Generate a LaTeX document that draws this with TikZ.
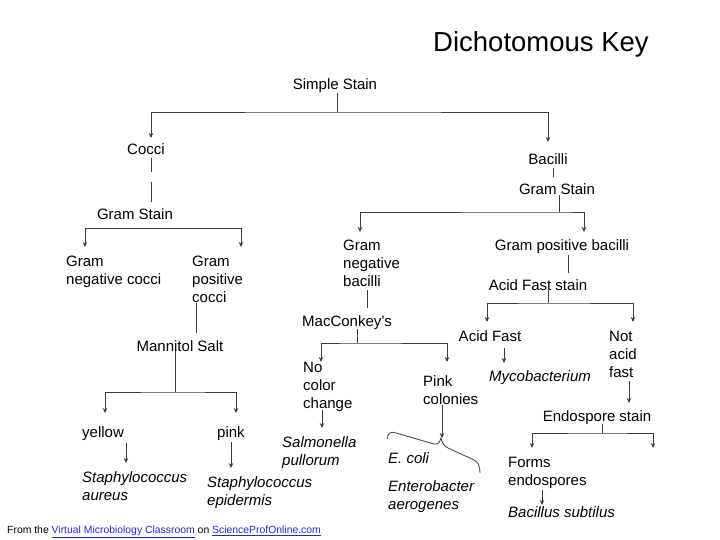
\documentclass[tikz,border=0pt]{standalone}
\usepackage{fontspec}
\setmainfont{Liberation Sans}
\usetikzlibrary{arrows.meta}
\definecolor{linkblue}{RGB}{40,40,200}
\definecolor{lncol}{RGB}{60,60,60}
\tikzset{
  txt/.style={inner sep=0pt, align=left, font=\fontsize{15}{18}\selectfont},
  itx/.style={txt, font=\fontsize{15}{18}\selectfont\itshape},
  ln/.style={draw=lncol, line width=0.8pt},
  arr/.style={ln, -{Stealth[length=5pt,width=4.5pt]}},
  dbl/.style={ln, {Stealth[length=5pt,width=4.5pt]}-{Stealth[length=5pt,width=4.5pt]}},
}
\begin{document}
\begin{tikzpicture}[x=1pt,y=-1pt]
\useasboundingbox (0,0) rectangle (720,540);
% title
\node[inner sep=0pt, font=\fontsize{27.5}{30}\selectfont] (title) at (541,44) {Dichotomous Key};
% text nodes
\node[txt, anchor=base] (ss) at (335,90) {Simple Stain};
\node[txt, anchor=base] (cocci) at (146,155) {Cocci};
\node[txt, anchor=base] (gsl) at (135,220) {Gram Stain};
\node[txt, anchor=base] (bac) at (548,165) {Bacilli};
\node[txt, anchor=base] (gsr) at (557,195) {Gram Stain};
\node[txt, anchor=north west] (gnc) at (66,255.5) {Gram\\negative cocci};
\node[txt, anchor=north west] (gpc) at (192,255.5) {Gram\\positive\\cocci};
\node[txt, anchor=base] (mann) at (180,351) {Mannitol Salt};
\node[txt, anchor=base west] (yellow) at (82,437) {yellow};
\node[txt, anchor=base west] (pink) at (217,437) {pink};
\node[itx, anchor=north west] (sa) at (82,471.5) {Staphylococcus\\aureus};
\node[itx, anchor=north west] (se) at (207,476.5) {Staphylococcus\\epidermis};
\node[txt, anchor=north west] (gnb) at (343,239.5) {Gram\\negative\\bacilli};
\node[txt, anchor=base] (gpb) at (562,250) {Gram positive bacilli};
\node[txt, anchor=base] (afs) at (538,290) {Acid Fast stain};
\node[txt, anchor=base west] (mac) at (302,326) {MacConkey's};
\node[txt, anchor=north west] (ncc) at (303,361.5) {No\\color\\change};
\node[txt, anchor=north west] (pc) at (423,375.5) {Pink\\colonies};
\node[txt, anchor=base] (af) at (490,341) {Acid Fast};
\node[txt, anchor=north west] (naf) at (609,330.5) {Not\\acid\\fast};
\node[itx, anchor=base west] (myco) at (489,381) {Mycobacterium};
\node[itx, anchor=north west] (sp) at (282,436.5) {Salmonella\\pullorum};
\node[itx, anchor=base west] (eco) at (388,463) {E. coli};
\node[itx, anchor=north west] (ent) at (388,480.5) {Enterobacter\\aerogenes};
\node[txt, anchor=base] (es) at (597,421) {Endospore stain};
\node[txt, anchor=north west] (fe) at (508,456.5) {Forms\\endospores};
\node[itx, anchor=base west] (bs) at (508,517) {Bacillus subtilus};
\node[inner sep=0pt, anchor=base west, font=\fontsize{10.4}{12}\selectfont] (foot) at (7,533.5)
  {From the \textcolor{linkblue}{\underline{Virtual Microbiology Classroom}} on \textcolor{linkblue}{\underline{ScienceProfOnline.com}}};
% junction coordinates
\coordinate (j1) at (337,112);
\coordinate (coa) at (151,138);
\coordinate (baa) at (548,142);
\coordinate (c1a) at (151,158);
\coordinate (c1b) at (151,172);
\coordinate (c2a) at (151,182);
\coordinate (c2b) at (151,202);
\coordinate (gnca) at (85,247);
\coordinate (gj) at (241,228);
\coordinate (gpca) at (241,247);
\coordinate (b1) at (553,168);
\coordinate (b2) at (553,177);
\coordinate (j2) at (559,212);
\coordinate (gnba) at (360,232);
\coordinate (gpba) at (584,232);
\coordinate (p1) at (196,303);
\coordinate (p2) at (196,333);
\coordinate (j3) at (175,392);
\coordinate (yea) at (105,413);
\coordinate (pia) at (236,413);
\coordinate (ya1) at (126,443);
\coordinate (ya2) at (126,463);
\coordinate (pa1) at (231,442);
\coordinate (pa2) at (231,468);
\coordinate (n1) at (367,290);
\coordinate (n2) at (367,308);
\coordinate (j4) at (357,343);
\coordinate (ncca) at (321,362);
\coordinate (pca) at (447,362);
\coordinate (s1) at (322,410);
\coordinate (s2) at (322,428);
\coordinate (k1) at (442,405);
\coordinate (k2) at (442,438);
\coordinate (q1) at (568,255);
\coordinate (q2) at (568,273);
\coordinate (j5) at (548,303);
\coordinate (afa) at (487,322);
\coordinate (nafa) at (633,322);
\coordinate (m1) at (504,348);
\coordinate (m2) at (504,363);
\coordinate (e1) at (629,381);
\coordinate (e2) at (629,403);
\coordinate (j6) at (602,433);
\coordinate (fea) at (532,448);
\coordinate (nfa) at (653,448);
\coordinate (f1) at (542,490);
\coordinate (f2) at (542,505);
% connectors
\draw[ln] (ss.south -| j1) -- (j1);
\draw[dbl] (coa) |- (j1) -| (baa);
\draw[ln] (c1a) -- (c1b);
\draw[ln] (c2a) -- (c2b);
\draw[dbl] (gnca) |- (gj) -- (gpca);
\draw[ln] (b1) -- (b2);
\draw[ln] (gsr.south -| j2) -- (j2);
\draw[dbl] (gnba) |- (j2) -| (gpba);
\draw[ln] (p1) -- (p2);
\draw[ln] (mann.south -| j3) -- (j3);
\draw[dbl] (yea) |- (j3) -| (pia);
\draw[arr] (ya1) -- (ya2);
\draw[arr] (pa1) -- (pa2);
\draw[ln] (n1) -- (n2);
\draw[ln] (mac.south -| j4) -- (j4);
\draw[dbl] (ncca) |- (j4) -| (pca);
\draw[arr] (s1) -- (s2);
\draw[arr] (k1) -- (k2);
\draw[ln] (q1) -- (q2);
\draw[ln] (afs.south -| j5) -- (j5);
\draw[dbl] (afa) |- (j5) -| (nafa);
\draw[arr] (m1) -- (m2);
\draw[arr] (e1) -- (e2);
\draw[ln] (es.south -| j6) -- (j6);
\draw[dbl] (fea) |- (j6) -| (nfa);
\draw[arr] (f1) -- (f2);
% brace
\draw[ln] (387,439) .. controls (388,433) and (391,431) .. (396,433) -- (434,444)
  .. controls (438,445) and (440,442) .. (441,438)
  .. controls (442,443) and (444,446) .. (448,448) -- (474,460)
  .. controls (478,462) and (480,466) .. (480,473);
\end{tikzpicture}
\end{document}
